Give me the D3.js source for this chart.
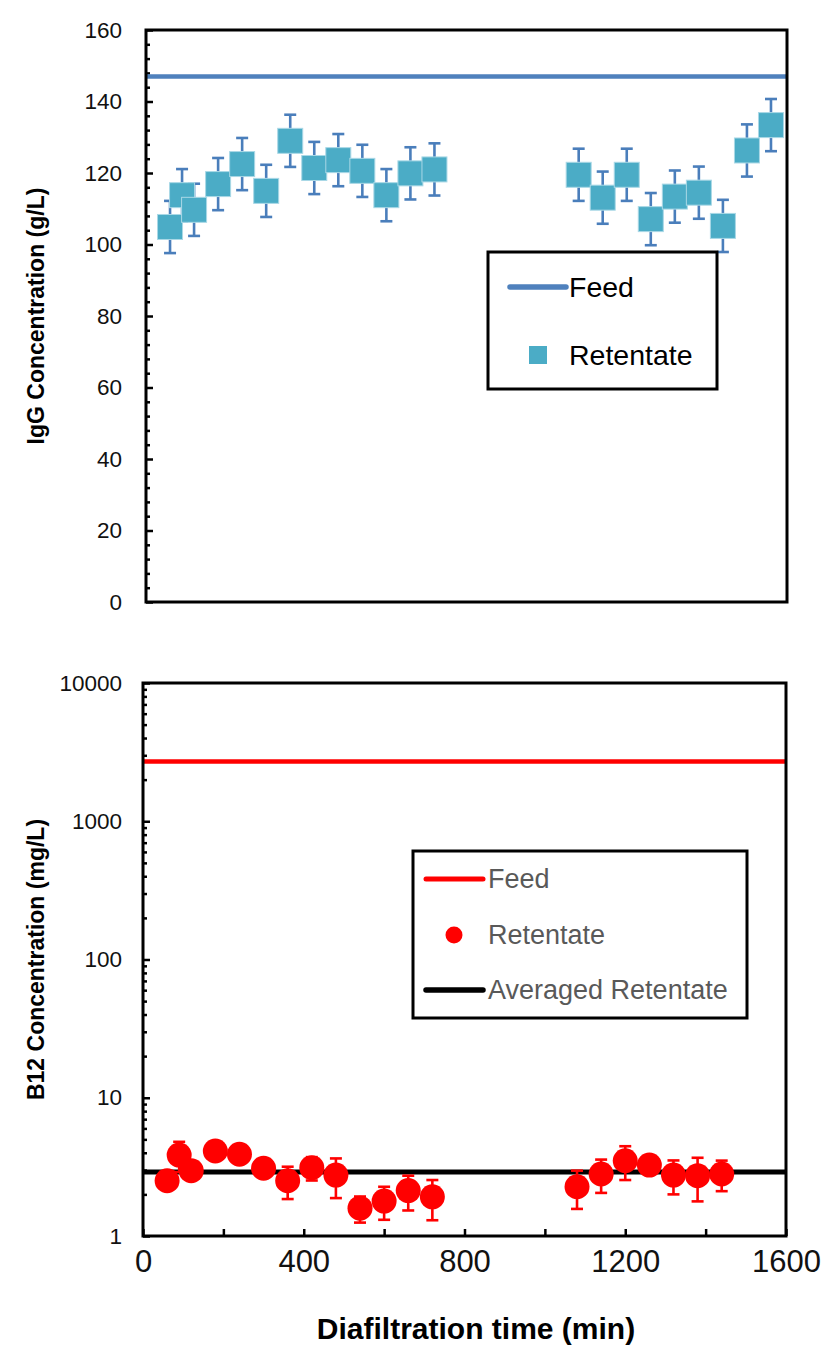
<!DOCTYPE html>
<html>
<head>
<meta charset="utf-8">
<script src="https://cdn.jsdelivr.net/npm/d3@7"></script>
<style>
  html, body { margin: 0; padding: 0; background: #fff; }
  svg { display: block; font-family: "Liberation Sans", Arial, sans-serif; }
</style>
</head>
<body>
<svg id="chart" width="822" height="1346"></svg>
<script>
// Sampling times (min) for the IgG panel
const iggTimes = [60, 90, 120, 180, 240, 300, 360, 420, 480, 540, 600, 660, 720,
                  1080, 1140, 1200, 1260, 1320, 1380, 1440, 1500, 1560];
// IgG retentate concentration (g/L) and its error
const iggRetentate = [104.9, 113.8, 109.7, 116.9, 122.5, 115.0, 129.0, 121.4, 123.6, 120.6, 113.8, 119.9, 121.0,
                      119.5, 113.1, 119.5, 107.1, 113.4, 114.5, 105.2, 126.3, 133.4];
const iggError = [7.3, 7.3, 7.3, 7.3, 7.3, 7.3, 7.3, 7.3, 7.3, 7.3, 7.3, 7.3, 7.3,
                  7.3, 7.3, 7.3, 7.3, 7.3, 7.3, 7.3, 7.3, 7.3];
const iggFeed = 147;

// Sampling times (min) for the B12 panel
const b12Times = [60, 90, 120, 180, 240, 300, 360, 420, 480, 540, 600, 660, 720,
                  1080, 1140, 1200, 1260, 1320, 1380, 1440];
// B12 retentate concentration (mg/L) and its error
const b12Retentate = [2.51, 3.85, 2.97, 4.12, 3.90, 3.09, 2.51, 3.12, 2.76, 1.59, 1.79, 2.13, 1.92,
                      2.27, 2.81, 3.50, 3.26, 2.76, 2.73, 2.81];
const b12Error = [0.3, 0.95, 0.3, 0.3, 0.3, 0.3, 0.66, 0.6, 0.88, 0.34, 0.48, 0.6, 0.62,
                  0.7, 0.76, 0.96, 0.3, 0.76, 0.95, 0.7];
const b12Feed = 2700;
const b12Average = 2.9;

// Axis ticks
const iggMajorTicks = [0, 20, 40, 60, 80, 100, 120, 140, 160];
const b12MajorTicks = [1, 10, 100, 1000, 10000];
const timeTicks = [0, 200, 400, 600, 800, 1000, 1200, 1400, 1600];
const timeTickLabels = [0, 400, 800, 1200, 1600];

const svg = d3.select("#chart");
const fontFamily = '"Liberation Sans", Arial, sans-serif';
const capW = 6;

// ---------- IgG panel ----------
const iggBox = { x0: 146, x1: 787, y0: 30, y1: 602 };
const xTop = d3.scaleLinear().domain([0, 1600]).range([iggBox.x0, iggBox.x1]);
const yTop = d3.scaleLinear().domain([0, 160]).range([iggBox.y1, iggBox.y0]);

const gTop = svg.append("g");

// minor y ticks every 4 g/L
const iggMinor = d3.range(0, 161, 4).filter(v => v % 20 !== 0);
gTop.append("g")
  .attr("transform", `translate(${iggBox.x0},0)`)
  .call(d3.axisLeft(yTop).tickValues(iggMinor).tickSize(-4).tickFormat(""))
  .call(g => g.select(".domain").remove())
  .call(g => g.selectAll("line").attr("stroke", "#000").attr("stroke-width", 2.5));

gTop.append("g")
  .attr("transform", `translate(${iggBox.x0},0)`)
  .call(d3.axisLeft(yTop).tickValues(iggMajorTicks).tickSize(-7).tickPadding(24))
  .call(g => g.select(".domain").remove())
  .call(g => g.selectAll("line").attr("stroke", "#000").attr("stroke-width", 2.5))
  .call(g => g.selectAll("text").attr("font-size", 22.5).attr("font-family", fontFamily).attr("fill", "#111"));

// feed line
gTop.append("line")
  .attr("x1", xTop(0)).attr("x2", xTop(1600))
  .attr("y1", yTop(iggFeed)).attr("y2", yTop(iggFeed))
  .attr("stroke", "#4f81bd").attr("stroke-width", 4.5);

const iggData = iggTimes.map((t, i) => ({ t, v: iggRetentate[i], e: iggError[i] }));

// error bars
const ebTop = gTop.append("g").attr("stroke", "#4a7ebb").attr("stroke-width", 2.6);
iggData.forEach(d => {
  const x = xTop(d.t);
  ebTop.append("line").attr("x1", x).attr("x2", x).attr("y1", yTop(d.v - d.e)).attr("y2", yTop(d.v + d.e));
  ebTop.append("line").attr("x1", x - capW).attr("x2", x + capW).attr("y1", yTop(d.v + d.e)).attr("y2", yTop(d.v + d.e));
  ebTop.append("line").attr("x1", x - capW).attr("x2", x + capW).attr("y1", yTop(d.v - d.e)).attr("y2", yTop(d.v - d.e));
});

// retentate squares
const sq = 25;
gTop.append("g").selectAll("rect").data(iggData).join("rect")
  .attr("x", d => xTop(d.t) - sq / 2)
  .attr("y", d => yTop(d.v) - sq / 2)
  .attr("width", sq).attr("height", sq)
  .attr("fill", "#4bacc6")
  .attr("stroke", "#a9d8e6").attr("stroke-width", 1);

// plot frame
gTop.append("rect")
  .attr("x", iggBox.x0).attr("y", iggBox.y0)
  .attr("width", iggBox.x1 - iggBox.x0).attr("height", iggBox.y1 - iggBox.y0)
  .attr("fill", "none").attr("stroke", "#000").attr("stroke-width", 3);

// y title
gTop.append("text")
  .attr("transform", `translate(44,${(iggBox.y0 + iggBox.y1) / 2}) rotate(-90)`)
  .attr("text-anchor", "middle")
  .attr("font-size", 23).attr("font-weight", "bold").attr("font-family", fontFamily)
  .text("IgG Concentration (g/L)");

// legend
const legTop = gTop.append("g");
legTop.append("rect").attr("x", 488).attr("y", 252).attr("width", 229).attr("height", 137)
  .attr("fill", "#fff").attr("stroke", "#000").attr("stroke-width", 3);
legTop.append("line").attr("x1", 510).attr("x2", 566).attr("y1", 287).attr("y2", 287)
  .attr("stroke", "#4f81bd").attr("stroke-width", 5.5).attr("stroke-linecap", "round");
legTop.append("text").attr("x", 569).attr("y", 287).attr("dy", "0.35em")
  .attr("font-size", 28.5).attr("font-family", fontFamily).attr("fill", "#000").text("Feed");
legTop.append("rect").attr("x", 529).attr("y", 346).attr("width", 18).attr("height", 18)
  .attr("fill", "#4bacc6");
legTop.append("text").attr("x", 569).attr("y", 355).attr("dy", "0.35em")
  .attr("font-size", 28.5).attr("font-family", fontFamily).attr("fill", "#000").text("Retentate");

// ---------- B12 panel ----------
const b12Box = { x0: 143, x1: 786, y0: 683, y1: 1236 };
const xBot = d3.scaleLinear().domain([0, 1600]).range([b12Box.x0, b12Box.x1]);
const yBot = d3.scaleLog().domain([1, 10000]).range([b12Box.y1, b12Box.y0]);

const gBot = svg.append("g");

// minor log ticks (2..9 in each decade)
const b12Minor = [];
[1, 10, 100, 1000].forEach(dec => { for (let k = 2; k <= 9; k++) b12Minor.push(dec * k); });
gBot.append("g")
  .attr("transform", `translate(${b12Box.x0},0)`)
  .call(d3.axisLeft(yBot).tickValues(b12Minor).tickSize(-4).tickFormat(""))
  .call(g => g.select(".domain").remove())
  .call(g => g.selectAll("line").attr("stroke", "#000").attr("stroke-width", 2.5));

gBot.append("g")
  .attr("transform", `translate(${b12Box.x0},0)`)
  .call(d3.axisLeft(yBot).tickValues(b12MajorTicks).tickSize(-7).tickPadding(21).tickFormat(d3.format("d")))
  .call(g => g.select(".domain").remove())
  .call(g => g.selectAll("line").attr("stroke", "#000").attr("stroke-width", 2.5))
  .call(g => g.selectAll("text").attr("font-size", 22.5).attr("font-family", fontFamily).attr("fill", "#111"));

// x axis, ticks pointing into the plot
gBot.append("g")
  .attr("transform", `translate(0,${b12Box.y1})`)
  .call(d3.axisBottom(xBot).tickValues(timeTicks).tickSize(-7).tickPadding(14)
        .tickFormat(d => timeTickLabels.includes(d) ? d : ""))
  .call(g => g.select(".domain").remove())
  .call(g => g.selectAll("line").attr("stroke", "#000").attr("stroke-width", 2.5))
  .call(g => g.selectAll("text").attr("font-size", 31).attr("font-family", fontFamily).attr("fill", "#111"));

// feed and averaged retentate lines
gBot.append("line")
  .attr("x1", xBot(0)).attr("x2", xBot(1600))
  .attr("y1", yBot(b12Feed)).attr("y2", yBot(b12Feed))
  .attr("stroke", "#ff0000").attr("stroke-width", 4.5);
gBot.append("line")
  .attr("x1", xBot(0)).attr("x2", xBot(1600))
  .attr("y1", yBot(b12Average)).attr("y2", yBot(b12Average))
  .attr("stroke", "#000").attr("stroke-width", 5);

const b12Data = b12Times.map((t, i) => ({ t, v: b12Retentate[i], e: b12Error[i] }));

const ebBot = gBot.append("g").attr("stroke", "#ff0000").attr("stroke-width", 2.6);
b12Data.forEach(d => {
  const x = xBot(d.t);
  ebBot.append("line").attr("x1", x).attr("x2", x).attr("y1", yBot(d.v - d.e)).attr("y2", yBot(d.v + d.e));
  ebBot.append("line").attr("x1", x - capW).attr("x2", x + capW).attr("y1", yBot(d.v + d.e)).attr("y2", yBot(d.v + d.e));
  ebBot.append("line").attr("x1", x - capW).attr("x2", x + capW).attr("y1", yBot(d.v - d.e)).attr("y2", yBot(d.v - d.e));
});

gBot.append("g").selectAll("circle").data(b12Data).join("circle")
  .attr("cx", d => xBot(d.t)).attr("cy", d => yBot(d.v)).attr("r", 12.5)
  .attr("fill", "#ff0000");

gBot.append("rect")
  .attr("x", b12Box.x0).attr("y", b12Box.y0)
  .attr("width", b12Box.x1 - b12Box.x0).attr("height", b12Box.y1 - b12Box.y0)
  .attr("fill", "none").attr("stroke", "#000").attr("stroke-width", 3);

gBot.append("text")
  .attr("transform", `translate(44,${(b12Box.y0 + b12Box.y1) / 2}) rotate(-90)`)
  .attr("text-anchor", "middle")
  .attr("font-size", 23).attr("font-weight", "bold").attr("font-family", fontFamily)
  .text("B12 Concentration (mg/L)");

gBot.append("text")
  .attr("x", 476).attr("y", 1339)
  .attr("text-anchor", "middle")
  .attr("font-size", 30).attr("font-weight", "bold").attr("font-family", fontFamily)
  .text("Diafiltration time (min)");

// legend
const legBot = gBot.append("g");
legBot.append("rect").attr("x", 413).attr("y", 851).attr("width", 334).attr("height", 167)
  .attr("fill", "#fff").attr("stroke", "#000").attr("stroke-width", 3);
legBot.append("line").attr("x1", 426).attr("x2", 483).attr("y1", 879).attr("y2", 879)
  .attr("stroke", "#ff0000").attr("stroke-width", 5).attr("stroke-linecap", "round");
legBot.append("text").attr("x", 488).attr("y", 879).attr("dy", "0.35em")
  .attr("font-size", 27).attr("font-family", fontFamily).attr("fill", "#595959").text("Feed");
legBot.append("circle").attr("cx", 454).attr("cy", 935).attr("r", 8.5).attr("fill", "#ff0000");
legBot.append("text").attr("x", 488).attr("y", 935).attr("dy", "0.35em")
  .attr("font-size", 27).attr("font-family", fontFamily).attr("fill", "#595959").text("Retentate");
legBot.append("line").attr("x1", 426).attr("x2", 483).attr("y1", 990).attr("y2", 990)
  .attr("stroke", "#000").attr("stroke-width", 5.5).attr("stroke-linecap", "round");
legBot.append("text").attr("x", 488).attr("y", 990).attr("dy", "0.35em")
  .attr("font-size", 27).attr("font-family", fontFamily).attr("fill", "#595959").text("Averaged Retentate");
</script>
</body>
</html>
